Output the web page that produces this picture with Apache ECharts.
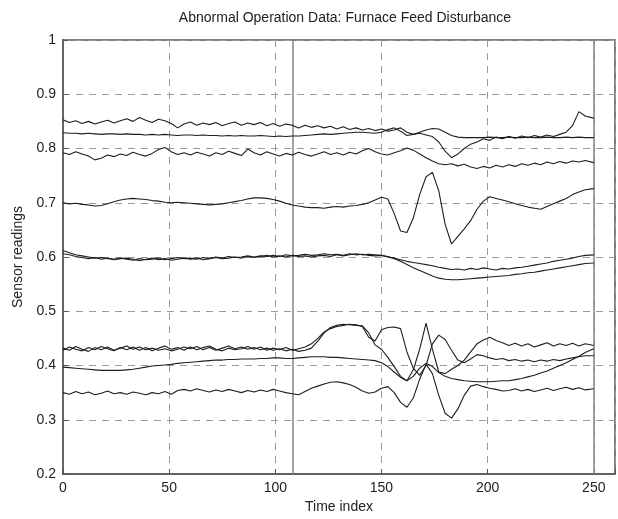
<!DOCTYPE html>
<html>
<head>
<meta charset="utf-8">
<script src="https://cdn.jsdelivr.net/npm/echarts@6/dist/echarts.min.js"></script>
<style>html,body{margin:0;padding:0;background:#fff}#c{width:618px;height:519px}</style>
</head>
<body>
<div id="c"></div>
<script>
const titleText = 'Abnormal Operation Data: Furnace Feed Disturbance';
const xName = 'Time index';
const yName = 'Sensor readings';
const markerTimes = [108, 250];

const times = [0,3,6,9,12,15,18,21,24,27,30,33,36,39,42,45,48,51,54,57,60,63,66,69,72,75,78,81,84,87,90,93,96,99,102,105,108,111,114,117,120,123,126,129,132,135,138,141,144,147,150,153,156,159,162,165,168,171,174,177,180,183,186,189,192,195,198,201,204,207,210,213,216,219,222,225,228,231,234,237,240,243,246,250];

const s1 = [0.853,0.848,0.851,0.846,0.850,0.845,0.849,0.852,0.847,0.851,
0.855,0.850,0.857,0.852,0.848,0.854,0.851,0.846,0.838,0.845,
0.849,0.843,0.847,0.844,0.848,0.842,0.846,0.849,0.843,0.847,
0.844,0.848,0.842,0.846,0.841,0.845,0.843,0.838,0.843,0.839,
0.842,0.838,0.841,0.836,0.840,0.835,0.838,0.834,0.837,0.833,
0.836,0.832,0.834,0.838,0.830,0.826,0.828,0.825,0.822,0.812,
0.795,0.783,0.790,0.800,0.808,0.812,0.818,0.815,0.821,0.818,
0.822,0.819,0.823,0.820,0.824,0.821,0.825,0.822,0.826,0.830,
0.842,0.868,0.860,0.856];

const s2 = [0.829,0.828,0.828,0.827,0.828,0.827,0.826,0.827,0.827,0.826,
0.827,0.826,0.826,0.825,0.826,0.825,0.826,0.825,0.824,0.825,
0.825,0.824,0.825,0.824,0.824,0.823,0.824,0.823,0.824,0.823,
0.823,0.824,0.823,0.822,0.823,0.822,0.823,0.823,0.824,0.825,
0.826,0.827,0.826,0.827,0.828,0.829,0.830,0.830,0.829,0.828,
0.830,0.835,0.838,0.832,0.824,0.826,0.830,0.834,0.837,0.836,
0.830,0.824,0.821,0.820,0.820,0.820,0.820,0.821,0.820,0.820,
0.821,0.820,0.820,0.821,0.820,0.820,0.821,0.820,0.820,0.821,
0.820,0.821,0.820,0.820];

const s3 = [0.792,0.789,0.794,0.790,0.786,0.779,0.782,0.788,0.785,0.790,
0.787,0.793,0.789,0.786,0.791,0.798,0.802,0.794,0.789,0.792,
0.788,0.793,0.790,0.786,0.792,0.789,0.795,0.791,0.787,0.799,
0.792,0.788,0.794,0.790,0.786,0.791,0.788,0.793,0.789,0.786,
0.790,0.794,0.789,0.792,0.788,0.793,0.790,0.796,0.800,0.794,
0.790,0.788,0.792,0.796,0.801,0.797,0.790,0.783,0.777,0.772,
0.770,0.772,0.768,0.771,0.766,0.763,0.767,0.764,0.769,0.766,
0.770,0.767,0.772,0.769,0.773,0.770,0.775,0.772,0.776,0.773,
0.777,0.775,0.778,0.774];

const s4 = [0.700,0.698,0.699,0.697,0.696,0.694,0.695,0.698,0.702,0.705,
0.707,0.708,0.707,0.706,0.704,0.703,0.701,0.700,0.701,0.700,
0.699,0.698,0.697,0.696,0.697,0.698,0.700,0.702,0.704,0.707,
0.709,0.709,0.708,0.706,0.703,0.699,0.696,0.694,0.692,0.691,
0.691,0.690,0.692,0.693,0.692,0.694,0.695,0.697,0.700,0.705,
0.710,0.707,0.680,0.648,0.645,0.672,0.715,0.748,0.756,0.722,
0.660,0.624,0.638,0.652,0.667,0.688,0.703,0.711,0.708,0.705,
0.702,0.698,0.695,0.692,0.690,0.688,0.693,0.698,0.703,0.708,
0.715,0.720,0.724,0.726];

const s5 = [0.612,0.608,0.604,0.602,0.600,0.598,0.599,0.597,0.596,0.598,
0.596,0.594,0.597,0.595,0.596,0.598,0.595,0.597,0.599,0.597,
0.598,0.596,0.599,0.597,0.600,0.598,0.601,0.599,0.600,0.602,
0.600,0.602,0.601,0.603,0.601,0.604,0.602,0.603,0.605,0.603,
0.604,0.606,0.604,0.605,0.603,0.606,0.604,0.605,0.603,0.602,
0.603,0.600,0.598,0.595,0.592,0.590,0.588,0.586,0.584,0.581,
0.579,0.577,0.578,0.576,0.579,0.577,0.580,0.578,0.576,0.579,
0.578,0.580,0.581,0.583,0.585,0.587,0.589,0.592,0.594,0.596,
0.598,0.601,0.603,0.604];

const s6 = [0.606,0.604,0.601,0.599,0.597,0.599,0.596,0.598,0.595,0.597,
0.598,0.596,0.593,0.596,0.598,0.595,0.597,0.594,0.596,0.598,
0.596,0.598,0.595,0.597,0.599,0.597,0.598,0.600,0.598,0.601,
0.599,0.601,0.603,0.600,0.602,0.600,0.603,0.601,0.602,0.600,
0.602,0.603,0.601,0.604,0.602,0.604,0.606,0.604,0.605,0.604,
0.603,0.601,0.597,0.592,0.586,0.580,0.575,0.570,0.565,0.561,
0.559,0.558,0.558,0.559,0.560,0.561,0.562,0.563,0.564,0.565,
0.566,0.568,0.569,0.571,0.572,0.574,0.576,0.578,0.580,0.582,
0.584,0.586,0.588,0.589];

const s7 = [0.432,0.428,0.435,0.430,0.426,0.433,0.429,0.434,0.428,0.432,
0.436,0.430,0.434,0.429,0.432,0.428,0.431,0.427,0.430,0.434,
0.431,0.435,0.429,0.433,0.428,0.432,0.436,0.431,0.434,0.430,
0.433,0.429,0.432,0.428,0.431,0.427,0.430,0.426,0.428,0.432,
0.445,0.460,0.470,0.474,0.476,0.475,0.474,0.473,0.460,0.438,
0.430,0.415,0.398,0.380,0.372,0.392,0.430,0.478,0.430,0.388,
0.385,0.393,0.400,0.410,0.425,0.440,0.447,0.452,0.446,0.442,
0.437,0.441,0.436,0.440,0.434,0.438,0.442,0.436,0.440,0.437,
0.441,0.436,0.440,0.437];

const s8 = [0.428,0.434,0.430,0.427,0.433,0.429,0.435,0.431,0.427,0.433,
0.429,0.434,0.428,0.433,0.427,0.432,0.436,0.430,0.433,0.428,
0.434,0.429,0.433,0.436,0.430,0.427,0.432,0.429,0.431,0.435,
0.430,0.434,0.428,0.432,0.429,0.433,0.428,0.431,0.434,0.440,
0.450,0.462,0.468,0.472,0.474,0.476,0.475,0.472,0.452,0.445,
0.466,0.470,0.471,0.468,0.425,0.395,0.382,0.400,0.440,0.456,
0.448,0.428,0.410,0.405,0.412,0.420,0.418,0.414,0.411,0.413,
0.409,0.411,0.408,0.410,0.407,0.410,0.408,0.411,0.409,0.412,
0.414,0.416,0.418,0.418];

const s9 = [0.397,0.396,0.395,0.394,0.393,0.392,0.391,0.391,0.391,0.391,
0.392,0.393,0.395,0.397,0.399,0.400,0.401,0.402,0.404,0.405,
0.406,0.407,0.408,0.409,0.410,0.410,0.411,0.411,0.412,0.412,
0.412,0.413,0.413,0.414,0.414,0.413,0.413,0.414,0.415,0.416,
0.416,0.416,0.415,0.415,0.414,0.413,0.412,0.411,0.410,0.409,
0.405,0.398,0.388,0.378,0.372,0.380,0.395,0.404,0.398,0.387,
0.380,0.376,0.374,0.372,0.371,0.370,0.370,0.370,0.371,0.372,
0.372,0.374,0.376,0.379,0.382,0.386,0.390,0.395,0.400,0.405,
0.411,0.417,0.424,0.431];

const s10 = [0.350,0.347,0.352,0.348,0.351,0.346,0.349,0.353,0.348,0.350,
0.347,0.351,0.349,0.346,0.350,0.348,0.352,0.347,0.354,0.356,
0.353,0.357,0.354,0.351,0.355,0.352,0.356,0.353,0.350,0.354,
0.351,0.355,0.352,0.356,0.353,0.350,0.348,0.346,0.352,0.358,
0.362,0.366,0.369,0.370,0.368,0.365,0.360,0.353,0.349,0.351,
0.358,0.361,0.350,0.332,0.323,0.340,0.375,0.402,0.385,0.345,
0.312,0.303,0.320,0.345,0.362,0.365,0.361,0.358,0.356,0.353,
0.354,0.357,0.353,0.356,0.352,0.355,0.358,0.354,0.357,0.360,
0.356,0.359,0.355,0.357];

const allSeries = [s1, s2, s3, s4, s5, s6, s7, s8, s9, s10];

const chart = echarts.init(document.getElementById('c'), null, {renderer: 'canvas'});
const FONT = 'Liberation Sans, Arial, sans-serif';

const lineSeries = allSeries.map((vals, k) => ({
  type: 'line',
  name: 'S' + (k + 1),
  data: times.map((t, i) => [t, vals[i]]),
  showSymbol: false,
  symbol: 'none',
  smooth: false,
  silent: true,
  animation: false,
  lineStyle: {color: '#1e1e1e', width: 1.1},
  z: 5
}));

lineSeries.push({
  type: 'line',
  data: [],
  silent: true,
  animation: false,
  markLine: {
    silent: true,
    symbol: ['none', 'none'],
    label: {show: false},
    animation: false,
    lineStyle: {type: 'solid', color: '#8a8a8a', width: 1.6},
    data: markerTimes.map(t => ({xAxis: t}))
  },
  z: 3
});

chart.setOption({
  animation: false,
  backgroundColor: '#fff',
  title: {
    text: titleText,
    left: 340,
    top: 6,
    textAlign: 'center',
    textStyle: {fontFamily: FONT, fontSize: 14, fontWeight: 'normal', color: '#222'}
  },
  grid: {left: 63, top: 40, right: -1, bottom: 40, show: true, borderColor: '#555', borderWidth: 1.5, backgroundColor: 'transparent'},
  xAxis: {
    type: 'value', min: 0, max: 260, interval: 50,
    name: xName, nameLocation: 'middle', nameGap: 26,
    nameTextStyle: {fontFamily: FONT, fontSize: 14, color: '#222'},
    axisLine: {show: true, lineStyle: {color: '#555', width: 1.5}},
    axisTick: {show: true, inside: true, length: 5, lineStyle: {color: '#555'}},
    axisLabel: {fontFamily: FONT, fontSize: 14, color: '#222', margin: 7,
      formatter: v => (v % 50 === 0 ? String(v) : '')},
    splitLine: {show: true, lineStyle: {type: [7, 6], color: '#9a9a9a', width: 1}}
  },
  yAxis: {
    type: 'value', min: 0.2, max: 1, interval: 0.1,
    name: yName, nameLocation: 'middle', nameGap: 38, nameRotate: 90,
    nameTextStyle: {fontFamily: FONT, fontSize: 14, color: '#222'},
    axisLine: {show: true, lineStyle: {color: '#666', width: 2}},
    axisTick: {show: true, inside: true, length: 5, lineStyle: {color: '#555'}},
    axisLabel: {fontFamily: FONT, fontSize: 14, color: '#222', margin: 7,
      formatter: v => String(+v.toFixed(1))},
    splitLine: {show: true, lineStyle: {type: [7, 6], color: '#9a9a9a', width: 1}}
  },
  series: lineSeries
});
</script>
</body>
</html>
